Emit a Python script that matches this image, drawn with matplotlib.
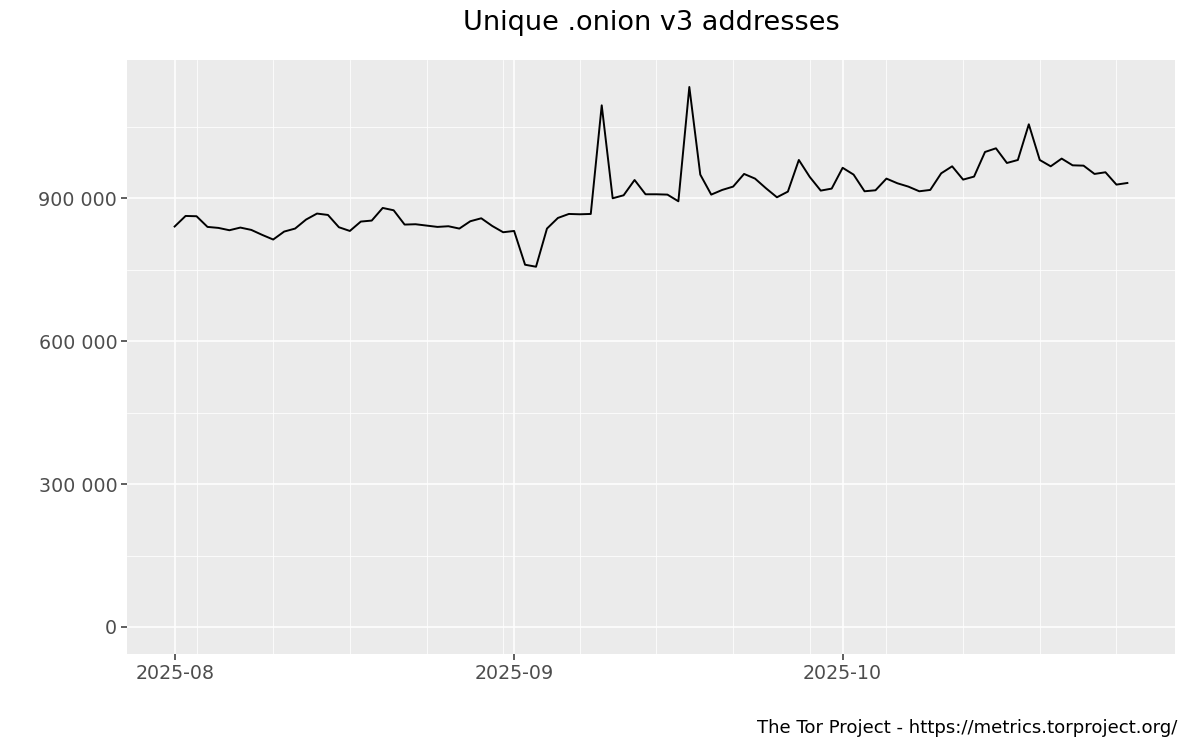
import matplotlib

matplotlib.use("Agg")
import matplotlib.pyplot as plt
import matplotlib.dates as mdates
import matplotlib.ticker as mticker
import numpy as np
import pandas as pd

START_DATE = "2025-08-01"
ONION_V3 = [
    840700, 862900, 862300, 839900, 837800, 832900, 838500, 833600, 823100, 813400,
    830100, 836400, 855300, 867900, 865000, 839200, 831400, 851100, 853200, 879700,
    874800, 844800, 845500, 842700, 839900, 841300, 836400, 851800, 858000, 841900,
    828700, 831400, 760500, 756300, 836400, 858700, 867100, 866400, 867100, 1095100,
    900000, 906300, 938400, 908400, 908400, 907700, 893700, 1133600, 949700, 907700,
    917500, 924500, 951100, 941300, 921000, 902100, 914000, 980400, 944700, 916100,
    920300, 964000, 949700, 914700, 916800, 941300, 931500, 924500, 914700, 917500,
    952400, 967100, 939200, 945500, 997200, 1004900, 974100, 980400, 1055300, 980400,
    967100, 983300, 969200, 968500, 951100, 954600, 928700, 932100,
]
Y_TICKS = [0, 300000, 600000, 900000]
Y_MINOR = [150000, 450000, 750000, 1050000]
TITLE = "Unique .onion v3 addresses"
CAPTION = "The Tor Project - https://metrics.torproject.org/"

PANEL = "#EBEBEB"
TEXT_GREY = "#4D4D4D"
TICK_GREY = "#333333"

dates = pd.date_range(START_DATE, periods=len(ONION_V3), freq="D")
values = np.array(ONION_V3, dtype=float)

fig = plt.figure(figsize=(12, 7.5), dpi=100)
ax = fig.add_axes([127 / 1200, 96 / 750, 1048 / 1200, 594 / 750])
ax.set_facecolor(PANEL)
for spine in ax.spines.values():
    spine.set_visible(False)

# ggplot-like 5% expansion, y includes zero
x0 = mdates.date2num(dates[0])
x1 = mdates.date2num(dates[-1])
xpad = 0.05 * (x1 - x0)
ax.set_xlim(x0 - xpad, x1 + xpad)
ymax = values.max()
ax.set_ylim(-0.05 * ymax, 1.05 * ymax)

ax.xaxis.set_major_locator(mdates.MonthLocator())
ax.xaxis.set_major_formatter(mdates.DateFormatter("%Y-%m"))
ax.xaxis.set_minor_locator(mdates.WeekdayLocator(byweekday=mdates.SU))
ax.set_yticks(Y_TICKS)
ax.set_yticks(Y_MINOR, minor=True)
ax.yaxis.set_major_formatter(
    mticker.FuncFormatter(lambda v, _: f"{int(v):,}".replace(",", " "))
)

ax.grid(which="major", color="white", linewidth=1.1)
ax.grid(which="minor", color="white", linewidth=0.55)
ax.set_axisbelow(True)

ax.tick_params(which="major", length=4, width=1.1, color=TICK_GREY,
               labelcolor=TEXT_GREY, labelsize=13.7, pad=3)
ax.tick_params(which="minor", length=0)

ax.plot(dates, values, color="black", linewidth=1.4, zorder=3)

fig.text((127 + 1175) / 2 / 1200, 1 - 23 / 750, TITLE, ha="center", va="center",
         fontsize=19.5, color="black")
fig.text(1177 / 1200, 1 - 728 / 750, CAPTION, ha="right", va="center",
         fontsize=13.1, color="black")

fig.savefig("out.png", dpi=100, facecolor="white")
